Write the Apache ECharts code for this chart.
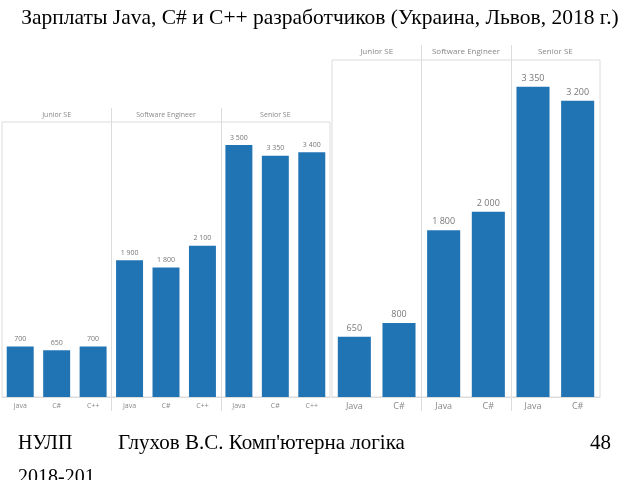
<!DOCTYPE html>
<html>
<head>
<meta charset="utf-8">
<script src="https://cdn.jsdelivr.net/npm/echarts@6/dist/echarts.min.js"></script>
<style>html,body{margin:0;padding:0;background:#fff}#c{width:640px;height:480px}</style>
</head>
<body>
<div id="c"></div>
<script>
// ---- data ----
const groups = ['Junior SE', 'Software Engineer', 'Senior SE'];
const langsLeft = ['Java', 'C#', 'C++', 'Java', 'C#', 'C++', 'Java', 'C#', 'C++'];
const valuesLeft = [700, 650, 700, 1900, 1800, 2100, 3500, 3350, 3400];
const langsRight = ['Java', 'C#', 'Java', 'C#', 'Java', 'C#'];
const valuesRight = [650, 800, 1800, 2000, 3350, 3200];
const titleText = 'Зарплаты Java, C# и C++ разработчиков (Украина, Львов, 2018 г.)';
const footerLeft = 'НУЛП\n2018-201';
const footerMid = "Глухов В.С. Комп'ютерна логіка";
const footerPage = '48';

const BAR = '#2074B4';
const GRID_LINE = '#dcdcdc';
const fmt = v => String(v).replace(/\B(?=(\d{3})+(?!\d))/g, ' ');

const maxLeft = 3820, maxRight = 3640;

function sepSeries(xTopIdx, yIdx, ymax, up, down) {
  return {
    type: 'custom',
    xAxisIndex: xTopIdx,
    yAxisIndex: yIdx,
    silent: true,
    clip: false,
    data: [[1, 0], [2, 0]],
    encode: { x: 0, y: 1 },
    renderItem: function (params, api) {
      const i = api.value(0);
      const band = api.size([1, 0])[0];
      const p0 = api.coord([i, 0]);
      const p1 = api.coord([i, ymax]);
      const x = Math.round(p0[0] - band / 2) + 0.5;
      return {
        type: 'line',
        shape: { x1: x, y1: p1[1] - up, x2: x, y2: p0[1] + down },
        style: { stroke: GRID_LINE, lineWidth: 1 }
      };
    }
  };
}

const serif = { fontFamily: 'Liberation Serif', fontWeight: 'normal', color: '#000' };

const chart = echarts.init(document.getElementById('c'), null, { renderer: 'canvas' });
chart.setOption({
  animation: false,
  backgroundColor: '#fff',
  title: [
    { text: titleText, left: 'center', top: 7, padding: 0,
      textStyle: Object.assign({ fontSize: 21.5 }, serif) },
    { text: footerLeft, left: 18, top: 427, padding: 0,
      textStyle: Object.assign({ fontSize: 20, lineHeight: 34 }, serif) },
    { text: footerMid, left: 118, top: 433, padding: 0,
      textStyle: Object.assign({ fontSize: 21 }, serif) },
    { text: footerPage, left: 590, top: 433, padding: 0,
      textStyle: Object.assign({ fontSize: 21 }, serif) }
  ],
  grid: [
    { left: 2, top: 122, width: 328, height: 275, show: true, borderColor: GRID_LINE, borderWidth: 1, containLabel: false },
    { left: 332, top: 60, width: 268, height: 337, show: true, borderColor: GRID_LINE, borderWidth: 1, containLabel: false }
  ],
  xAxis: [
    { type: 'category', gridIndex: 0, data: langsLeft, position: 'bottom',
      axisLine: { show: true, lineStyle: { color: GRID_LINE } }, axisTick: { show: false },
      axisLabel: { fontSize: 7, color: '#888', margin: 5, fontFamily: 'Open Sans', interval: 0 } },
    { type: 'category', gridIndex: 0, data: groups, position: 'top',
      axisLine: { show: false }, axisTick: { show: false },
      axisLabel: { fontSize: 7, color: '#888', margin: 4, fontFamily: 'Open Sans', interval: 0 } },
    { type: 'category', gridIndex: 1, data: langsRight, position: 'bottom',
      axisLine: { show: true, lineStyle: { color: GRID_LINE } }, axisTick: { show: false },
      axisLabel: { fontSize: 9, color: '#888', margin: 5, fontFamily: 'Open Sans', interval: 0 } },
    { type: 'category', gridIndex: 1, data: groups, position: 'top',
      axisLine: { show: false }, axisTick: { show: false },
      axisLabel: { fontSize: 8, color: '#888', margin: 4, fontFamily: 'Open Sans', interval: 0 } }
  ],
  yAxis: [
    { type: 'value', gridIndex: 0, min: 0, max: maxLeft, show: false, splitLine: { show: false } },
    { type: 'value', gridIndex: 1, min: 0, max: maxRight, show: false, splitLine: { show: false } }
  ],
  series: [
    { type: 'bar', xAxisIndex: 0, yAxisIndex: 0, data: valuesLeft, barCategoryGap: '26%',
      itemStyle: { color: BAR },
      label: { show: true, position: 'top', distance: 4, fontSize: 7, color: '#777', fontFamily: 'Open Sans',
        formatter: p => fmt(p.value) } },
    { type: 'bar', xAxisIndex: 2, yAxisIndex: 1, data: valuesRight, barCategoryGap: '26%',
      itemStyle: { color: BAR },
      label: { show: true, position: 'top', distance: 4, fontSize: 9, color: '#777', fontFamily: 'Open Sans',
        formatter: p => fmt(p.value) } },
    sepSeries(1, 0, maxLeft, 14, 14),
    sepSeries(3, 1, maxRight, 15, 14)
  ]
});
</script>
</body>
</html>
